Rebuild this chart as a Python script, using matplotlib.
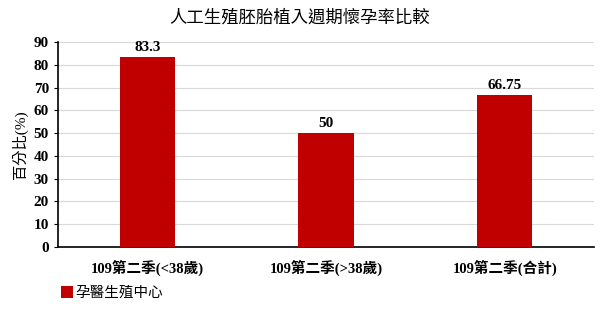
import matplotlib
matplotlib.use("Agg")
import matplotlib.pyplot as plt
import numpy as np

FONTS = ['Liberation Serif', 'Noto Sans CJK TC']
plt.rcParams['font.family'] = FONTS

categories = ['109第二季(<38歲)', '109第二季(>38歲)', '109第二季(合計)']
values = [83.3, 50, 66.75]
value_labels = ['83.3', '50', '66.75']
series_name = '孕醫生殖中心'
title = '人工生殖胚胎植入週期懷孕率比較'
ylabel = '百分比(%)'

fig = plt.figure(figsize=(6, 3.31), dpi=100)
ax = fig.add_axes([58 / 600, 1 - 247 / 331, 536 / 600, 205 / 331])

x = np.arange(len(categories))
ax.bar(x, values, width=0.31, color='#C00000', label=series_name, zorder=3)
for xi, v, s in zip(x, values, value_labels):
    ax.text(xi, v + 1.5, s, ha='center', va='bottom', fontsize=11, fontweight='bold')

ax.set_xlim(-0.5, 2.5)
ax.set_ylim(0, 90)
ax.set_yticks(range(0, 91, 10))
ax.yaxis.grid(True, color='#D9D9D9', linewidth=0.8, zorder=0)
for side in ['top', 'right']:
    ax.spines[side].set_visible(False)
ax.spines['left'].set_linewidth(1.2)
ax.spines['bottom'].set_linewidth(1.2)
ax.tick_params(axis='y', length=3, labelsize=11)
ax.tick_params(axis='x', length=0, pad=9, labelsize=10.5)
ax.set_xticks(x)
ax.set_xticklabels(categories)
for lab in ax.get_xticklabels() + ax.get_yticklabels():
    lab.set_fontweight('bold')
ax.set_ylabel(ylabel, fontsize=11, labelpad=4)

fig.text(0.5, 1 - 18 / 331, title, ha='center', va='center', fontsize=12.5)
ax.legend(loc='upper left', bbox_to_anchor=(-0.005, -0.16), frameon=False,
          fontsize=10.5, handlelength=0.8, handleheight=0.9, handletextpad=0.2,
          borderaxespad=0)

plt.savefig('out.png', dpi=100)
